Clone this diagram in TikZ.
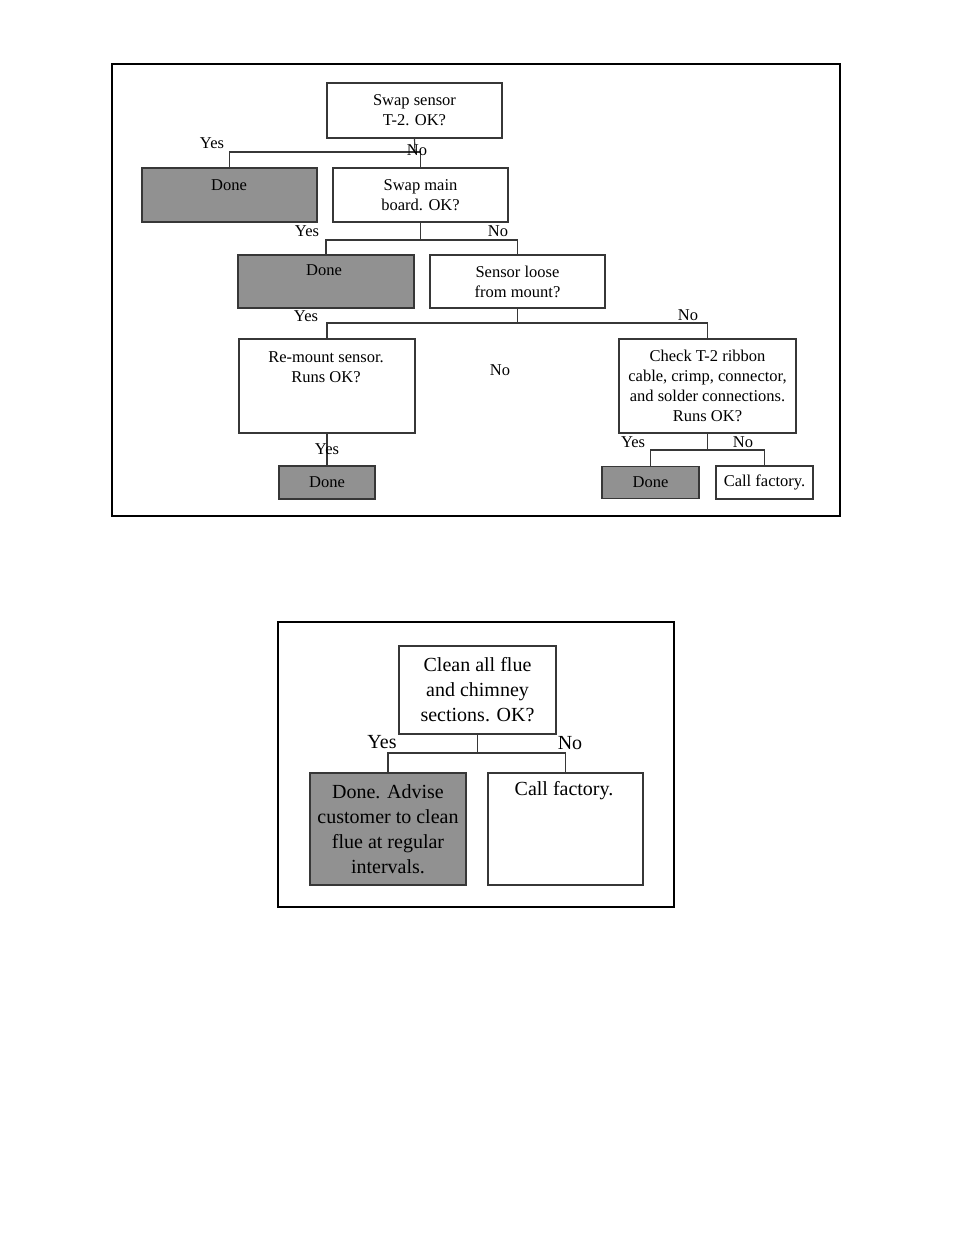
\documentclass[tikz,border=0pt]{standalone}
\usepackage{fontspec}
\setmainfont{Liberation Serif}
\definecolor{donegray}{RGB}{145,145,145}
\definecolor{linegray}{RGB}{55,55,55}
\newcommand{\fa}{\fontsize{16.5}{20}\selectfont}
\newcommand{\fb}{\fontsize{20}{25}\selectfont}
\begin{document}
\begin{tikzpicture}[x=1pt,y=-1pt,
  frame/.style={draw=black,line width=2pt},
  box/.style={draw=linegray,line width=1.2pt,inner sep=0pt,align=center,font=\fa},
  donebox/.style={box,fill=donegray},
  boxb/.style={box,font=\fb},
  doneboxb/.style={boxb,fill=donegray},
  conn/.style={draw=linegray,line width=1.2pt},
  lbl/.style={inner sep=0pt,font=\fa,align=center},
  lblb/.style={inner sep=0pt,font=\fb,align=center}]
\useasboundingbox (0,0) rectangle (954,1235);
% frames
\draw[frame] (112,64) rectangle (840,516);
\draw[frame] (278,622) rectangle (674,907);
% diagram 1 boxes
\node[box,minimum width=175pt,minimum height=55pt] (A) at (414.5,110.5) {Swap sensor\\T-2. OK?};
\node[donebox,minimum width=175pt,minimum height=54pt] (D1) at (229.5,195) {};
\node[lbl] (D1t) at (229,185) {Done};
\node[box,minimum width=175pt,minimum height=54pt] (B) at (420.5,195) {Swap main\\board. OK?};
\node[donebox,minimum width=176pt,minimum height=53pt] (D2) at (326,281.5) {};
\node[lbl] (D2t) at (324,270) {Done};
\node[box,minimum width=175pt,minimum height=53pt] (C) at (517.5,281.5) {Sensor loose\\from mount?};
\node[box,minimum width=176pt,minimum height=94pt] (R) at (327,386) {};
\node[lbl] (Rt) at (326,367) {Re-mount sensor.\\Runs OK?};
\node[box,minimum width=177pt,minimum height=94pt] (K) at (707.5,386) {Check T-2 ribbon\\cable, crimp, connector,\\and solder connections.\\Runs OK?};
\node[donebox,minimum width=97pt,minimum height=32pt] (D3) at (650.5,482.5) {Done};
\node[box,minimum width=97pt,minimum height=33pt] (F) at (764.5,482.5) {Call factory.};
\node[donebox,minimum width=96pt,minimum height=33pt] (D4) at (327,482.5) {Done};
% diagram 1 connectors
\coordinate (j1) at (415,152);
\coordinate (j2) at (420.5,240);
\coordinate (j3) at (517.5,323);
\coordinate (j4) at (707.5,450);
\draw[conn] (A.south) -- (j1);
\draw[conn] (j1) -| (D1.north);
\draw[conn] (j1) -| (B.north);
\draw[conn] (B.south) -- (j2);
\draw[conn] (j2) -| (D2.north);
\draw[conn] (j2) -| (C.north);
\draw[conn] (C.south) -- (j3);
\draw[conn] (j3) -| (R.north);
\draw[conn] (j3) -| (K.north);
\draw[conn] (R.south) -- (D4.north);
\draw[conn] (K.south) -- (j4);
\draw[conn] (j4) -| (D3.north);
\draw[conn] (j4) -| (F.north);
% diagram 1 labels
\node[lbl] (y1) at (212,143) {Yes};
\node[lbl] (n1) at (417,150) {No};
\node[lbl] (y2) at (307,231) {Yes};
\node[lbl] (n2) at (498,231) {No};
\node[lbl] (y3) at (306,316) {Yes};
\node[lbl] (n3) at (688,315) {No};
\node[lbl] (n4) at (500,370) {No};
\node[lbl] (y4) at (327,449) {Yes};
\node[lbl] (y5) at (633,442) {Yes};
\node[lbl] (n5) at (743,442) {No};
% diagram 2
\node[boxb,minimum width=157pt,minimum height=88pt] (E) at (477.5,690) {Clean all flue\\and chimney\\sections. OK?};
\node[doneboxb,minimum width=156pt,minimum height=112pt] (G) at (388,829) {Done. Advise\\customer to clean\\flue at regular\\intervals.};
\node[boxb,minimum width=155pt,minimum height=112pt] (H) at (565.5,829) {};
\node[lblb] (Ht) at (564,791) {Call factory.};
\coordinate (j5) at (477.5,753);
\draw[conn] (E.south) -- (j5);
\draw[conn] (j5) -| (G.north);
\draw[conn] (j5) -| (H.north);
\node[lblb] (y6) at (382,742) {Yes};
\node[lblb] (n6) at (570,743) {No};
\end{tikzpicture}
\end{document}
